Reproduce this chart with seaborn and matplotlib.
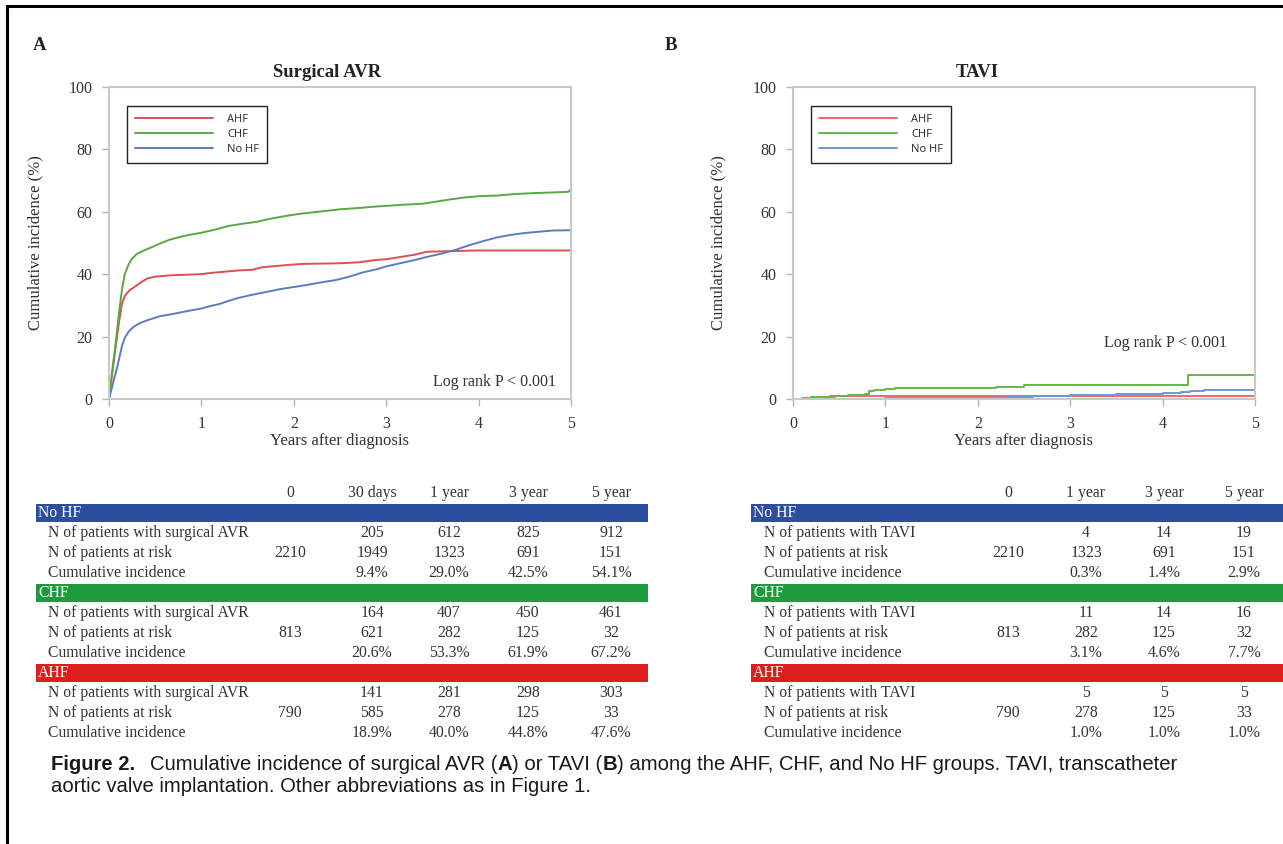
import numpy as np
import pandas as pd
import matplotlib
matplotlib.use("Agg")
import matplotlib.pyplot as plt
import seaborn as sns
from matplotlib.patches import Rectangle
from matplotlib.lines import Line2D

# ---- curve data ----
groups = ["AHF", "CHF", "No HF"]

# Surgical AVR
avr_ahf_t = [0, 0.03, 0.06, 0.082, 0.11, 0.14, 0.17, 0.22, 0.28, 0.35, 0.42, 0.5, 0.65, 0.8, 1.0,
             1.1, 1.25, 1.4, 1.55, 1.65, 1.8, 1.95, 2.1, 2.3, 2.5, 2.7, 2.9, 3.0, 3.15, 3.3, 3.44, 3.98, 5.0]
avr_ahf_y = [0, 7, 14, 18.9, 25, 30.5, 33, 34.8, 36, 37.5, 38.7, 39.2, 39.6, 39.8, 40.0,
             40.4, 40.8, 41.2, 41.4, 42.2, 42.6, 43.0, 43.3, 43.4, 43.5, 43.8, 44.6, 44.8, 45.5, 46.2, 47.2, 47.6, 47.6]

avr_chf_t = [0, 0.03, 0.06, 0.082, 0.11, 0.14, 0.17, 0.21, 0.25, 0.3, 0.37, 0.45, 0.55, 0.65, 0.75, 0.85, 1.0,
             1.15, 1.3, 1.45, 1.6, 1.75, 1.9, 2.05, 2.2, 2.35, 2.5, 2.7, 2.85, 3.0, 3.2, 3.4, 3.55, 3.7,
             3.85, 4.0, 4.2, 4.4, 4.6, 4.8, 4.97, 5.0]
avr_chf_y = [0, 8, 15, 20.6, 28, 35, 40, 43, 45, 46.5, 47.5, 48.5, 49.8, 51, 51.8, 52.5, 53.3,
             54.3, 55.5, 56.2, 56.8, 57.8, 58.6, 59.3, 59.8, 60.3, 60.8, 61.2, 61.6, 61.9, 62.3, 62.6, 63.3, 64.0,
             64.6, 65.0, 65.2, 65.7, 66.0, 66.2, 66.4, 67.2]

avr_nohf_t = [0, 0.03, 0.06, 0.082, 0.11, 0.14, 0.17, 0.21, 0.26, 0.33, 0.44, 0.55, 0.7, 0.85, 1.0,
              1.1, 1.2, 1.3, 1.4, 1.55, 1.7, 1.85, 2.0, 2.15, 2.3, 2.45, 2.6, 2.75, 2.9, 3.0, 3.15, 3.3,
              3.45, 3.6, 3.75, 3.9, 4.05, 4.2, 4.35, 4.5, 4.65, 4.8, 5.0]
avr_nohf_y = [0, 3.5, 7, 9.4, 13, 17, 19.5, 21.5, 23, 24.3, 25.5, 26.5, 27.3, 28.2, 29.0,
              29.8, 30.5, 31.5, 32.4, 33.4, 34.3, 35.2, 35.9, 36.6, 37.4, 38.1, 39.2, 40.6, 41.6, 42.5, 43.5, 44.5,
              45.6, 46.6, 47.8, 49.3, 50.6, 51.8, 52.6, 53.2, 53.6, 54.0, 54.1]

# TAVI
tavi_ahf_t = [0, 0.1, 0.2, 0.3, 0.45, 5.0]
tavi_ahf_y = [0, 0.3, 0.5, 0.7, 1.0, 1.0]

tavi_chf_t = [0, 0.2, 0.4, 0.6, 0.78, 0.82, 0.88, 1.0, 1.1, 2.2, 2.5, 4.28, 5.0]
tavi_chf_y = [0, 0.5, 1.0, 1.3, 1.5, 2.6, 3.0, 3.1, 3.4, 3.9, 4.6, 7.7, 7.7]

tavi_nohf_t = [0, 0.5, 1.0, 2.0, 2.3, 2.6, 3.0, 3.5, 4.0, 4.2, 4.3, 4.45, 5.0]
tavi_nohf_y = [0, 0.1, 0.3, 0.4, 0.6, 0.9, 1.4, 1.6, 1.9, 2.2, 2.6, 2.9, 2.9]

# ---- table data ----
table_groups = ["No HF", "CHF", "AHF"]

avr_cols = ["0", "30 days", "1 year", "3 year", "5 year"]
avr_row_labels = ["N of patients with surgical AVR", "N of patients at risk", "Cumulative incidence"]
avr_with_nohf = ["", "205", "612", "825", "912"]
avr_risk_nohf = ["2210", "1949", "1323", "691", "151"]
avr_cum_nohf = ["", "9.4%", "29.0%", "42.5%", "54.1%"]
avr_with_chf = ["", "164", "407", "450", "461"]
avr_risk_chf = ["813", "621", "282", "125", "32"]
avr_cum_chf = ["", "20.6%", "53.3%", "61.9%", "67.2%"]
avr_with_ahf = ["", "141", "281", "298", "303"]
avr_risk_ahf = ["790", "585", "278", "125", "33"]
avr_cum_ahf = ["", "18.9%", "40.0%", "44.8%", "47.6%"]

tavi_cols = ["0", "1 year", "3 year", "5 year"]
tavi_row_labels = ["N of patients with TAVI", "N of patients at risk", "Cumulative incidence"]
tavi_with_nohf = ["", "4", "14", "19"]
tavi_risk_nohf = ["2210", "1323", "691", "151"]
tavi_cum_nohf = ["", "0.3%", "1.4%", "2.9%"]
tavi_with_chf = ["", "11", "14", "16"]
tavi_risk_chf = ["813", "282", "125", "32"]
tavi_cum_chf = ["", "3.1%", "4.6%", "7.7%"]
tavi_with_ahf = ["", "5", "5", "5"]
tavi_risk_ahf = ["790", "278", "125", "33"]
tavi_cum_ahf = ["", "1.0%", "1.0%", "1.0%"]

# ---- style ----
W, H = 1283, 844
sns.set_style("white")
plt.rcParams["font.family"] = ["Liberation Serif", "DejaVu Serif"]

colors_a = {"AHF": "#de4f4f", "CHF": "#58a845", "No HF": "#5a7dc0"}
colors_b = {"AHF": "#f06868", "CHF": "#63b845", "No HF": "#6a9ad6"}
band_colors = {"No HF": "#2d4d9e", "CHF": "#1f9a3e", "AHF": "#dc1e1e"}
text_gray = "#333333"

fig = plt.figure(figsize=(W / 100, H / 100), dpi=100)


def px_rect(x0, y0, x1, y1):
    return [x0 / W, 1 - y1 / H, (x1 - x0) / W, (y1 - y0) / H]


def curve_frame(series):
    parts = []
    for name, (t, y) in series.items():
        parts.append(pd.DataFrame({"Years": t, "Incidence": y, "Group": name}))
    return pd.concat(parts, ignore_index=True)


df_a = curve_frame({"AHF": (avr_ahf_t, avr_ahf_y), "CHF": (avr_chf_t, avr_chf_y),
                    "No HF": (avr_nohf_t, avr_nohf_y)})
df_b = curve_frame({"AHF": (tavi_ahf_t, tavi_ahf_y), "CHF": (tavi_chf_t, tavi_chf_y),
                    "No HF": (tavi_nohf_t, tavi_nohf_y)})

ax_a = fig.add_axes(px_rect(109, 87, 571, 399))
ax_b = fig.add_axes(px_rect(793, 87, 1255, 399))

panels = [
    (ax_a, df_a, colors_a, "default", "Surgical AVR", 0.472, "A", 33, (0.968, 0.055), -0.143),
    (ax_b, df_b, colors_b, "steps-post", "TAVI", 0.40, "B", 665, (0.94, 0.18), -0.145),
]

for ax, df, pal, dstyle, title, title_x, letter, letter_x, lr_pos, ylab_x in panels:
    sns.lineplot(data=df, x="Years", y="Incidence", hue="Group", hue_order=groups,
                 palette=pal, estimator=None, sort=False, drawstyle=dstyle,
                 linewidth=1.4, ax=ax)
    ax.set_xlim(0, 5)
    ax.set_ylim(0, 100)
    ax.set_xticks(range(0, 6))
    ax.set_yticks(range(0, 101, 20))
    for s in ax.spines.values():
        s.set_color("#c9c9c9")
        s.set_linewidth(1.5)
    ax.tick_params(axis="both", direction="out", length=5, width=1, color="#b5b5b5",
                   labelsize=11.5, labelcolor=text_gray, pad=7, bottom=True, left=True)
    ax.set_xlabel("Years after diagnosis", fontsize=12, color=text_gray)
    ax.set_ylabel("Cumulative incidence (%)", fontsize=12, color=text_gray)
    ax.xaxis.set_label_coords(0.5, -0.108)
    ax.yaxis.set_label_coords(ylab_x, 0.5)
    ax.text(title_x, 1.048, title, transform=ax.transAxes, ha="center", va="center",
            fontsize=13.5, fontweight="bold", color="#222222")
    fig.text(letter_x / W, 1 - 45 / H, letter, ha="left", va="center",
             fontsize=13.5, fontweight="bold", color="#222222")
    ax.text(lr_pos[0], lr_pos[1], "Log rank P < 0.001", transform=ax.transAxes,
            ha="right", va="center", fontsize=11.5, color=text_gray)

    handles, labels = ax.get_legend_handles_labels()
    leg = ax.legend(handles, labels, loc="upper left", bbox_to_anchor=(0.038, 0.94),
                    frameon=True, fancybox=False, edgecolor="#222222", framealpha=1,
                    borderaxespad=0, handlelength=7.0, handletextpad=1.3,
                    labelspacing=0.35, borderpad=0.75,
                    prop={"family": "Open Sans", "size": 8})
    leg.get_frame().set_linewidth(1.0)
    for line in leg.get_lines():
        line.set_linewidth(1.4)

# ---- tables ----
row_step = 20.0
row_top = 493 - row_step / 2
n_rows = 13
tfs = 11.3


def draw_table(x0, x1, label_x, col_x, cols, row_labels, values):
    tax = fig.add_axes(px_rect(x0, row_top, x1, row_top + n_rows * row_step))
    tax.set_xlim(x0, x1)
    tax.set_ylim(n_rows - 0.5, -0.5)
    tax.axis("off")
    for cx, c in zip(col_x, cols):
        tax.text(cx, 0, c, ha="center", va="center", fontsize=tfs, color=text_gray)
    r = 1
    for g in table_groups:
        tax.add_patch(Rectangle((x0, r - 0.47), x1 - x0, 0.94, color=band_colors[g], lw=0))
        tax.text(x0 + 2, r, g, ha="left", va="center", fontsize=tfs, color="white")
        r += 1
        for lab, vals in zip(row_labels, values[g]):
            tax.text(label_x, r, lab, ha="left", va="center", fontsize=tfs, color=text_gray)
            for cx, v in zip(col_x, vals):
                tax.text(cx, r, v, ha="center", va="center", fontsize=tfs, color=text_gray)
            r += 1


draw_table(36, 648, 48, [290, 372, 449, 528, 611], avr_cols, avr_row_labels,
           {"No HF": [avr_with_nohf, avr_risk_nohf, avr_cum_nohf],
            "CHF": [avr_with_chf, avr_risk_chf, avr_cum_chf],
            "AHF": [avr_with_ahf, avr_risk_ahf, avr_cum_ahf]})
draw_table(751, 1283, 764, [1008, 1086, 1164, 1244], tavi_cols, tavi_row_labels,
           {"No HF": [tavi_with_nohf, tavi_risk_nohf, tavi_cum_nohf],
            "CHF": [tavi_with_chf, tavi_risk_chf, tavi_cum_chf],
            "AHF": [tavi_with_ahf, tavi_risk_ahf, tavi_cum_ahf]})

# ---- caption ----
cap_font = ["Liberation Sans", "DejaVu Sans"]
renderer = fig.canvas.get_renderer()


def write_runs(x_px, y_px, runs, size):
    x = x_px
    for txt, weight in runs:
        t = fig.text(x / W, 1 - y_px / H, txt, ha="left", va="center", fontsize=size,
                     fontweight=weight, family=cap_font, color="#1a1a1a")
        x += t.get_window_extent(renderer=renderer).width
    return x


def runs_width(runs, size):
    total = 0
    for txt, weight in runs:
        t = fig.text(0, 0, txt, fontsize=size, fontweight=weight, family=cap_font)
        total += t.get_window_extent(renderer=renderer).width
        t.remove()
    return total


line1 = [("Cumulative incidence of surgical AVR (", "normal"), ("A", "bold"), (") or TAVI (", "normal"),
         ("B", "bold"), (") among the AHF, CHF, and No HF groups. TAVI, transcatheter", "normal")]
cap_size = min(14.6, 12.0 * (1256 - 150) / runs_width(line1, 12.0))
write_runs(51, 764, [("Figure 2.", "bold")], cap_size)
write_runs(150, 764, line1, cap_size)
write_runs(51, 786, [("aortic valve implantation. Other abbreviations as in Figure 1.", "normal")], cap_size)

# outer frame (left and top)
fig.add_artist(Line2D([7 / W, 7 / W], [0, 1 - 6 / H], transform=fig.transFigure, color="black", lw=2.2))
fig.add_artist(Line2D([7 / W, 1], [1 - 6 / H, 1 - 6 / H], transform=fig.transFigure, color="black", lw=2.2))

fig.savefig("out.png", dpi=100, facecolor="white")
